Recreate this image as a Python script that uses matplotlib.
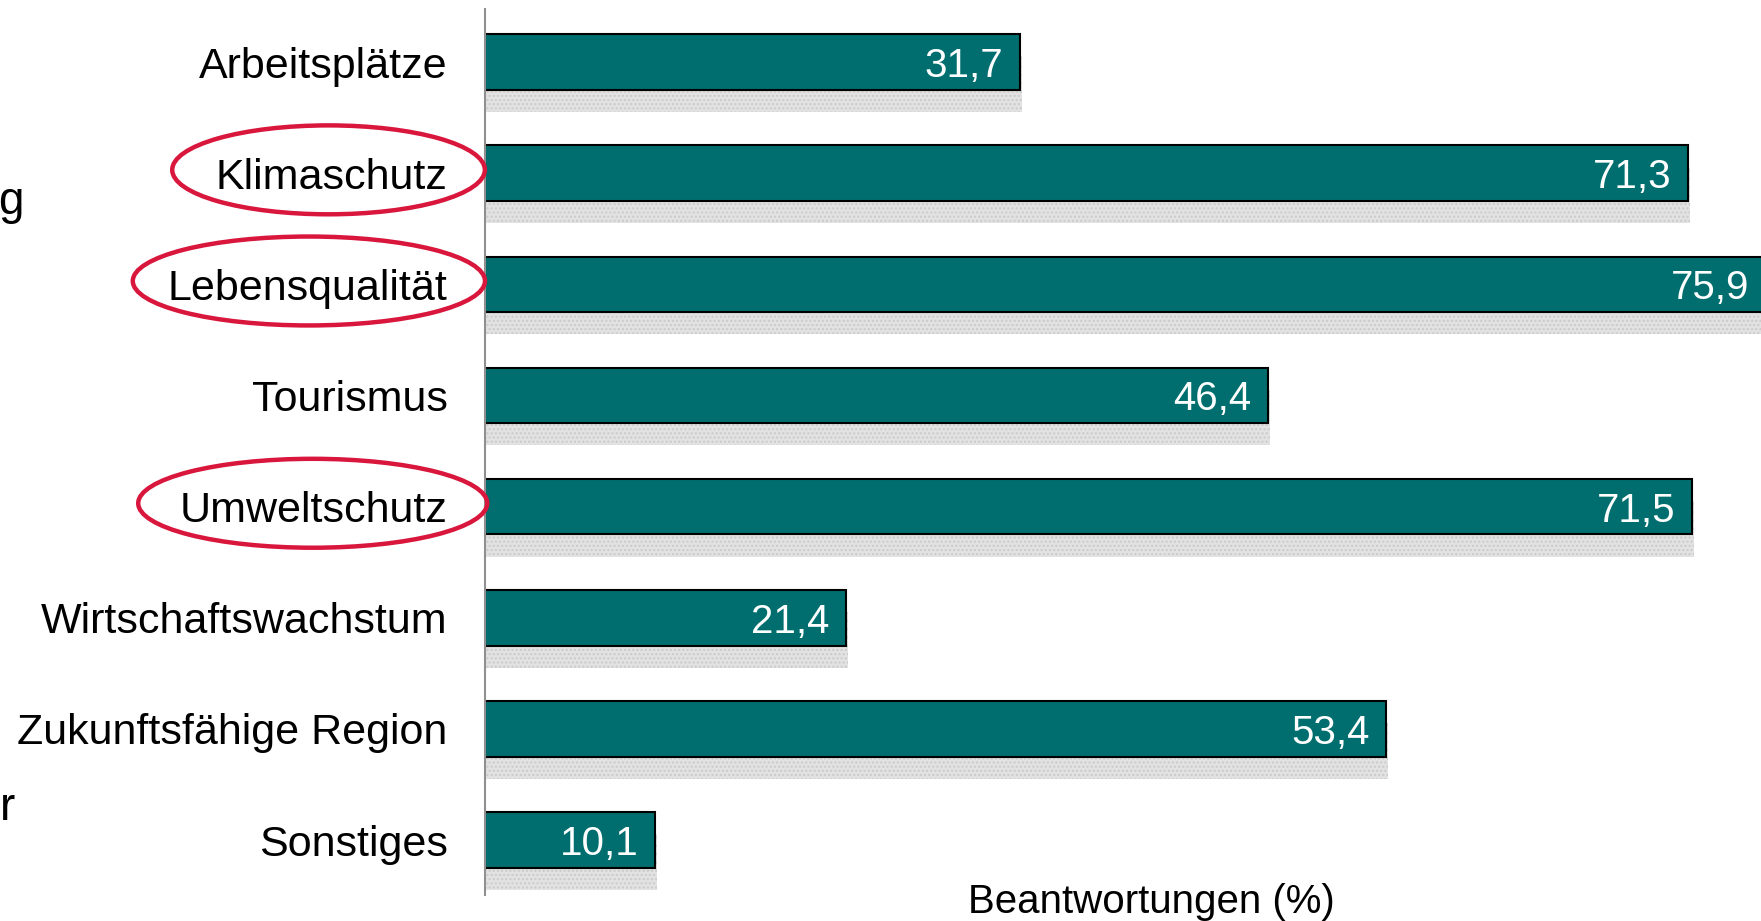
import numpy as np
import matplotlib
matplotlib.use("Agg")
from matplotlib import pyplot as plt
from matplotlib.patches import Ellipse
from matplotlib import transforms

categories = ["Arbeitsplätze", "Klimaschutz", "Lebensqualität", "Tourismus",
              "Umweltschutz", "Wirtschaftswachstum", "Zukunftsfähige Region", "Sonstiges"]
values = [31.7, 71.3, 75.9, 46.4, 71.5, 21.4, 53.4, 10.1]
circled = ["Klimaschutz", "Lebensqualität", "Umweltschutz"]

plt.rcParams['font.family'] = ['Liberation Sans', 'DejaVu Sans']

fig = plt.figure(figsize=(17.61, 9.21), dpi=100)
ax = fig.add_axes([0.2754, 0.0282, 0.7246, 0.962])

y = np.arange(len(categories))
teal = "#006e6e"

# shadow behind bars
ax.barh(y + 0.2, np.array(values) + 0.12, height=0.5, color="#e2e2e2",
        hatch="....", edgecolor="#cacaca", linewidth=0, zorder=1)
bars = ax.barh(y, values, height=0.5, color=teal, edgecolor="black",
               linewidth=1.5, zorder=2)

for b, v in zip(bars, values):
    ax.annotate(f"{v:.1f}".replace(".", ","), (v, b.get_y() + b.get_height() / 2),
                xytext=(-12, 0), textcoords="offset points", ha="right",
                va="center_baseline", color="white", fontsize=29, zorder=3,
                annotation_clip=False)

ax.set_xlim(0, 75.6)
ax.set_ylim(7.495, -0.477)
ax.set_yticks(y)
ax.set_yticklabels(categories, fontsize=31)
ax.tick_params(axis="y", length=0, pad=27)
ax.set_xticks([])
for s in ["top", "right", "bottom"]:
    ax.spines[s].set_visible(False)
ax.spines["left"].set_color("#909090")
ax.spines["left"].set_linewidth(1.5)

ax.text(0.522, -0.008, "Beantwortungen (%)", transform=ax.transAxes,
        ha="center", va="center", fontsize=29, clip_on=False)

# red ellipses around labels
trans = transforms.blended_transform_factory(ax.transAxes, ax.transData)
ell = {"Klimaschutz": (-0.1226, 0.245),
       "Lebensqualität": (-0.138, 0.276),
       "Umweltschutz": (-0.135, 0.2735)}
for name in circled:
    cx, w = ell[name]
    i = categories.index(name)
    e = Ellipse((cx, i - 0.03), w, 0.8, transform=trans, fill=False,
                edgecolor="#d9163c", linewidth=3.2, clip_on=False, zorder=5)
    ax.add_patch(e)

# partly hidden text at the left edge
fig.text(-0.001, 1 - 202 / 921, "g", fontsize=33, ha="left", va="center")
fig.text(0.0, 1 - 808 / 921, "r", fontsize=33, ha="left", va="center")

fig.savefig("out.png", dpi=100)
